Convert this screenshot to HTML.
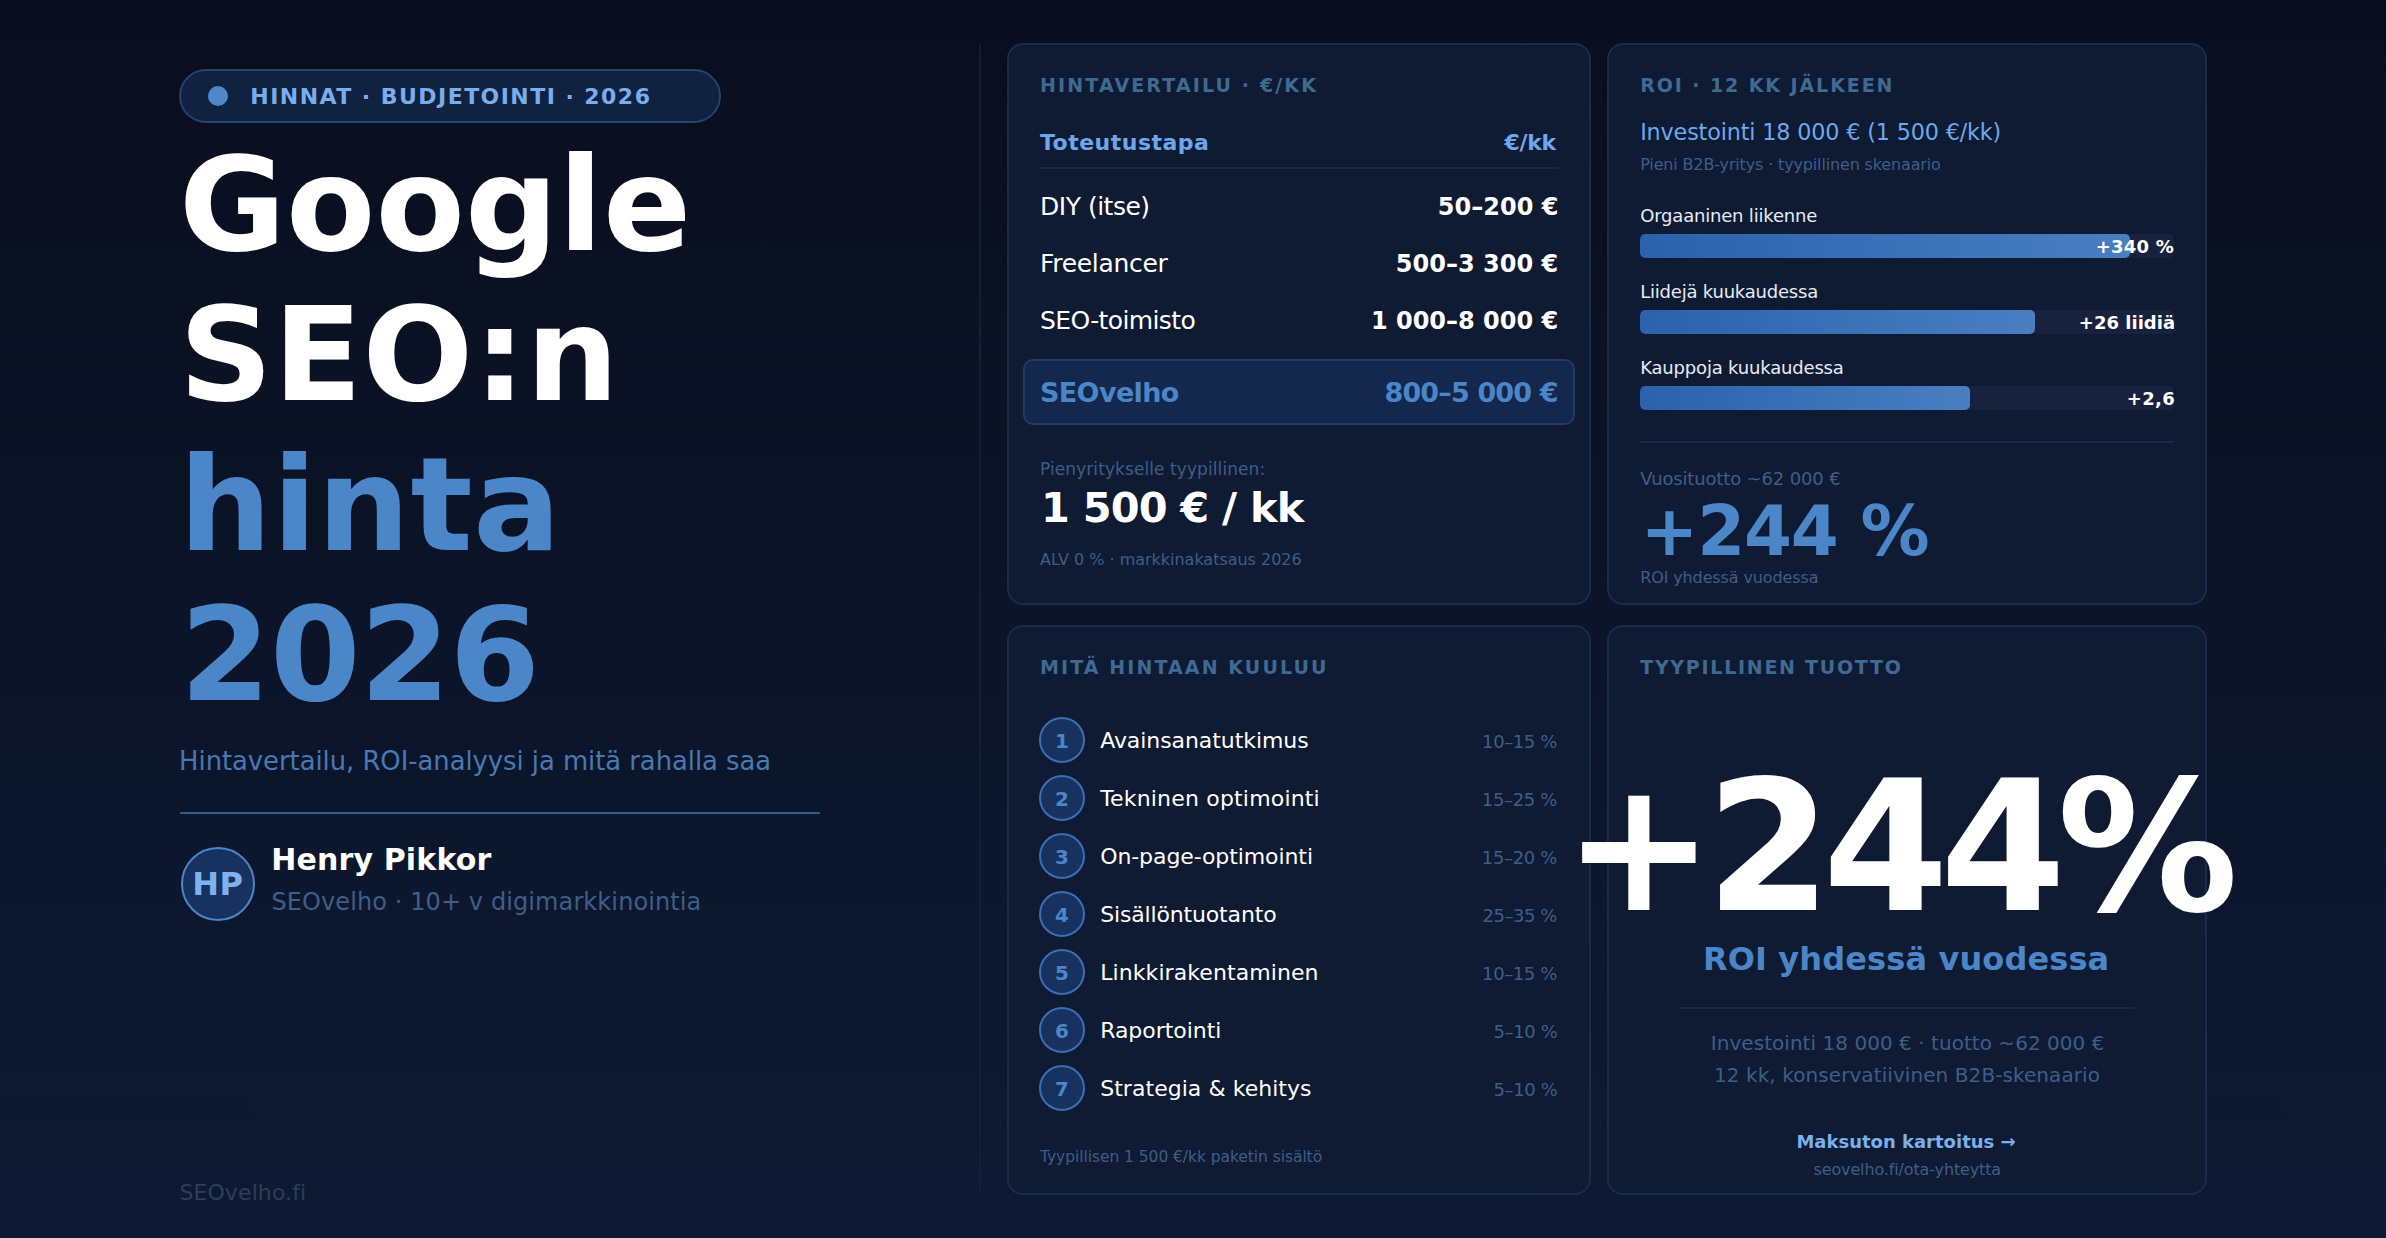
<!DOCTYPE html>
<html lang="fi">
<head>
<meta charset="utf-8">
<title>Google SEO:n hinta 2026</title>
<style>
*{box-sizing:border-box;margin:0;padding:0}
html,body{width:2386px;height:1238px;overflow:hidden}
body{position:relative;font-family:"DejaVu Sans","Liberation Sans",sans-serif;color:#fff;background:linear-gradient(180deg,#090e1e 0%,#0b1428 50%,#0e1a33 100%)}
.t{position:absolute;white-space:nowrap;line-height:1}
.b{font-weight:bold}
.s{position:absolute}
.card{position:absolute;background:#0f1a33;border:2px solid #1a2c4c;border-radius:16px}
.ln{position:absolute;height:2px;background:#19294a}
.circ{position:absolute;left:1039px;width:46px;height:46px;border-radius:50%;background:#17325e;border:2px solid #3a6eb5}
.num{width:46px;left:1039px;text-align:center}
.track{position:absolute;left:1640px;width:534px;height:24px;border-radius:5px;background:#18213e;overflow:hidden}
.fill{position:absolute;left:0;top:0;height:24px;border-radius:5px;background:linear-gradient(90deg,#2a62ac,#497ec1)}
</style>
</head>
<body>
<!-- left column -->
<div class="s" style="left:179px;top:69px;width:542px;height:54px;border-radius:27px;background:#10223f;border:2px solid #25446f"></div>
<div class="s" style="left:208px;top:86px;width:20px;height:20px;border-radius:50%;background:#4f88c9"></div>
<div class="t b" style="left:250.3px;top:86px;font-size:22px;color:#78aeee;letter-spacing:1.45px">HINNAT · BUDJETOINTI · 2026</div>
<div class="t b" style="left:179.1px;top:140px;font-size:130.2px;color:#fff;letter-spacing:0.08px">Google</div>
<div class="t b" style="left:179.1px;top:290px;font-size:130.2px;color:#fff;letter-spacing:0.4px">SEO:n</div>
<div class="t b" style="left:179.1px;top:440px;font-size:130.2px;color:#4a86c8;letter-spacing:0.45px">hinta</div>
<div class="t b" style="left:180.1px;top:590px;font-size:130.2px;color:#4a86c8;letter-spacing:-0.77px">2026</div>
<div class="t" style="left:179.1px;top:749px;font-size:25.85px;color:#4a78b2;letter-spacing:-0.04px">Hintavertailu, ROI-analyysi ja mitä rahalla saa</div>
<div class="s" style="left:180px;top:812px;width:640px;height:2px;background:#365a89"></div>
<div class="s" style="left:181px;top:847px;width:74px;height:74px;border-radius:50%;background:#17325e;border:2px solid #4a86c8"></div>
<div class="t b" style="left:192.3px;top:868px;font-size:32px;color:#7fb2ec;letter-spacing:0.3px">HP</div>
<div class="t b" style="left:271.3px;top:845px;font-size:30px;color:#fff;letter-spacing:0.14px">Henry Pikkor</div>
<div class="t" style="left:271.4px;top:890px;font-size:24px;color:#3e5f86;letter-spacing:0.1px">SEOvelho · 10+ v digimarkkinointia</div>
<div class="t" style="left:179.4px;top:1182px;font-size:22px;color:#2c3e59;letter-spacing:0.1px">SEOvelho.fi</div>
<div class="s" style="left:979px;top:44px;width:2px;height:1150px;background:#111f38"></div>
<!-- card 1 -->
<div class="card" style="left:1007px;top:43px;width:584px;height:562px"></div>
<div class="t b" style="left:1040px;top:76px;font-size:19px;color:#3f6a92;letter-spacing:2.13px">HINTAVERTAILU · €/KK</div>
<div class="t b" style="left:1040px;top:132px;font-size:22px;color:#6ea8ec;letter-spacing:0.49px">Toteutustapa</div>
<div class="t b" style="left:1504.6px;top:132px;font-size:22px;color:#6ea8ec;letter-spacing:-0.33px">€/kk</div>
<div class="ln" style="left:1040px;top:167px;width:518px"></div>
<div class="t" style="left:1040px;top:194px;font-size:25px;color:#fff;letter-spacing:-0.49px">DIY (itse)</div>
<div class="t b" style="left:1437.8px;top:195px;font-size:24px;color:#fff;letter-spacing:0.01px">50–200 €</div>
<div class="t" style="left:1040px;top:251px;font-size:25px;color:#fff;letter-spacing:-0.3px">Freelancer</div>
<div class="t b" style="left:1395.8px;top:252px;font-size:24px;color:#fff;letter-spacing:0.01px">500–3 300 €</div>
<div class="t" style="left:1040px;top:308px;font-size:25px;color:#fff;letter-spacing:-0.62px">SEO-toimisto</div>
<div class="t b" style="left:1370.9px;top:309px;font-size:24px;color:#fff">1 000–8 000 €</div>
<div class="s" style="left:1023px;top:359px;width:552px;height:66px;border-radius:10px;background:#14274c;border:2px solid #203c67"></div>
<div class="t b" style="left:1040px;top:379px;font-size:27px;color:#4a86c8;letter-spacing:-0.64px">SEOvelho</div>
<div class="t b" style="left:1384.5px;top:379px;font-size:27px;color:#4a86c8;letter-spacing:-0.86px">800–5 000 €</div>
<div class="t" style="left:1040px;top:461px;font-size:17px;color:#3e5f86;letter-spacing:0.08px">Pienyritykselle tyypillinen:</div>
<div class="t b" style="left:1041px;top:487px;font-size:41.5px;color:#fff;letter-spacing:-0.84px">1 500 € / kk</div>
<div class="t" style="left:1040px;top:552px;font-size:16px;color:#3e5f86;letter-spacing:-0.02px">ALV 0 % · markkinakatsaus 2026</div>
<!-- card 2 -->
<div class="card" style="left:1607px;top:43px;width:600px;height:562px"></div>
<div class="t b" style="left:1640.2px;top:76px;font-size:19px;color:#3f6a92;letter-spacing:1.91px">ROI · 12 KK JÄLKEEN</div>
<div class="t" style="left:1640.2px;top:121px;font-size:22.3px;color:#6ea8ec;letter-spacing:-0.16px">Investointi 18 000 € (1 500 €/kk)</div>
<div class="t" style="left:1640.2px;top:157px;font-size:16px;color:#3e5f86;letter-spacing:-0.15px">Pieni B2B-yritys · tyypillinen skenaario</div>
<div class="t" style="left:1640.2px;top:207px;font-size:18px;color:#e6ecf6;letter-spacing:-0.19px">Orgaaninen liikenne</div>
<div class="track" style="top:234px"><div class="fill" style="width:490px"></div></div>
<div class="t b" style="left:2095.7px;top:238px;font-size:18px;color:#fff;letter-spacing:0.22px">+340 %</div>
<div class="t" style="left:1640.2px;top:283px;font-size:18px;color:#e6ecf6;letter-spacing:-0.21px">Liidejä kuukaudessa</div>
<div class="track" style="top:310px"><div class="fill" style="width:395px"></div></div>
<div class="t b" style="left:2078.8px;top:314px;font-size:18px;color:#fff;letter-spacing:0.02px">+26 liidiä</div>
<div class="t" style="left:1640.2px;top:359px;font-size:18px;color:#e6ecf6;letter-spacing:-0.18px">Kauppoja kuukaudessa</div>
<div class="track" style="top:386px"><div class="fill" style="width:330px"></div></div>
<div class="t b" style="left:2126.8px;top:390px;font-size:18px;color:#fff;letter-spacing:0.33px">+2,6</div>
<div class="ln" style="left:1640px;top:441px;width:534px"></div>
<div class="t" style="left:1640.2px;top:470px;font-size:18px;color:#3e5f86;letter-spacing:-0.15px">Vuosituotto ~62 000 €</div>
<div class="t b" style="left:1640.6px;top:497px;font-size:69px;color:#4a86c8;letter-spacing:-1.2px">+244 %</div>
<div class="t" style="left:1640.2px;top:570px;font-size:16px;color:#3e5f86;letter-spacing:-0.12px">ROI yhdessä vuodessa</div>
<!-- card 3 -->
<div class="card" style="left:1007px;top:625px;width:584px;height:570px"></div>
<div class="t b" style="left:1040px;top:658px;font-size:19px;color:#3f6a92;letter-spacing:2.1px">MITÄ HINTAAN KUULUU</div>
<div class="circ" style="top:717px"></div>
<div class="t b num" style="top:732px;font-size:19.9px;color:#4a86c8">1</div>
<div class="t" style="left:1100.2px;top:730px;font-size:22px;color:#fff;letter-spacing:-0.07px">Avainsanatutkimus</div>
<div class="t" style="left:1482.1px;top:733px;font-size:18px;color:#3e5f86;letter-spacing:-0.4px">10–15 %</div>
<div class="circ" style="top:775px"></div>
<div class="t b num" style="top:790px;font-size:19.9px;color:#4a86c8">2</div>
<div class="t" style="left:1100.2px;top:788px;font-size:22px;color:#fff;letter-spacing:0.18px">Tekninen optimointi</div>
<div class="t" style="left:1481.8px;top:791px;font-size:18px;color:#3e5f86;letter-spacing:-0.35px">15–25 %</div>
<div class="circ" style="top:833px"></div>
<div class="t b num" style="top:848px;font-size:19.9px;color:#4a86c8">3</div>
<div class="t" style="left:1100.2px;top:846px;font-size:22px;color:#fff;letter-spacing:-0.09px">On-page-optimointi</div>
<div class="t" style="left:1481.8px;top:849px;font-size:18px;color:#3e5f86;letter-spacing:-0.35px">15–20 %</div>
<div class="circ" style="top:891px"></div>
<div class="t b num" style="top:906px;font-size:19.9px;color:#4a86c8">4</div>
<div class="t" style="left:1100.2px;top:904px;font-size:22px;color:#fff;letter-spacing:-0.16px">Sisällöntuotanto</div>
<div class="t" style="left:1482.6px;top:907px;font-size:18px;color:#3e5f86;letter-spacing:-0.48px">25–35 %</div>
<div class="circ" style="top:949px"></div>
<div class="t b num" style="top:964px;font-size:19.9px;color:#4a86c8">5</div>
<div class="t" style="left:1100.2px;top:962px;font-size:22px;color:#fff;letter-spacing:0.08px">Linkkirakentaminen</div>
<div class="t" style="left:1482.1px;top:965px;font-size:18px;color:#3e5f86;letter-spacing:-0.4px">10–15 %</div>
<div class="circ" style="top:1007px"></div>
<div class="t b num" style="top:1022px;font-size:19.9px;color:#4a86c8">6</div>
<div class="t" style="left:1100.2px;top:1020px;font-size:22px;color:#fff;letter-spacing:-0.05px">Raportointi</div>
<div class="t" style="left:1493.4px;top:1023px;font-size:18px;color:#3e5f86;letter-spacing:-0.34px">5–10 %</div>
<div class="circ" style="top:1065px"></div>
<div class="t b num" style="top:1080px;font-size:19.9px;color:#4a86c8">7</div>
<div class="t" style="left:1100.2px;top:1078px;font-size:22px;color:#fff;letter-spacing:0.04px">Strategia &amp; kehitys</div>
<div class="t" style="left:1493.4px;top:1081px;font-size:18px;color:#3e5f86;letter-spacing:-0.34px">5–10 %</div>
<div class="t" style="left:1040px;top:1150px;font-size:15.5px;color:#3e5f86;letter-spacing:-0.06px">Tyypillisen 1 500 €/kk paketin sisältö</div>
<!-- card 4 -->
<div class="card" style="left:1607px;top:625px;width:600px;height:570px"></div>
<div class="t b" style="left:1640.2px;top:658px;font-size:19px;color:#3f6a92;letter-spacing:1.73px">TYYPILLINEN TUOTTO</div>
<div class="t b" style="left:1562.9px;top:757px;font-size:181px;color:#fff;letter-spacing:-8.85px">+244%</div>
<div class="t b" style="left:1703px;top:943px;font-size:32px;color:#4a86c8;letter-spacing:0.12px">ROI yhdessä vuodessa</div>
<div class="ln" style="left:1680px;top:1007px;width:454px"></div>
<div class="t" style="left:1710.8px;top:1033px;font-size:20px;color:#3e5f86;letter-spacing:0.04px">Investointi 18 000 € · tuotto ~62 000 €</div>
<div class="t" style="left:1714px;top:1065px;font-size:20px;color:#3e5f86;letter-spacing:0.08px">12 kk, konservatiivinen B2B-skenaario</div>
<div class="t b" style="left:1796.4px;top:1133px;font-size:18px;color:#7ab0ee">Maksuton kartoitus →</div>
<div class="t" style="left:1813.5px;top:1162px;font-size:16px;color:#3e5f86;letter-spacing:-0.14px">seovelho.fi/ota-yhteytta</div>
</body>
</html>
